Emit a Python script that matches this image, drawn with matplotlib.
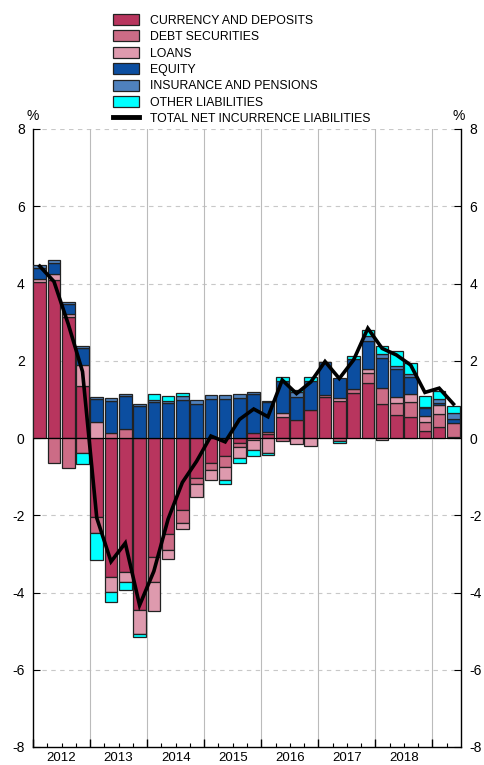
import numpy as np
import matplotlib.pyplot as plt
from matplotlib.patches import Patch
from matplotlib.lines import Line2D

plt.rcParams['font.family'] = ['Liberation Sans', 'DejaVu Sans']
plt.rcParams['axes.unicode_minus'] = False

# quarterly data, 2012Q1 - 2019Q2 (% contributions)
years = ['2012', '2013', '2014', '2015', '2016', '2017', '2018']

currency = [4.05, 4.08, 3.13, 1.35, -2.04, -3.59, -3.46, -4.45,
            -3.07, -2.48, -1.86, -1.03, -0.66, -0.47, -0.14, 0.12,
            0.10, 0.55, 0.46, 0.72, 1.07, 0.96, 1.16, 1.43,
            0.88, 0.60, 0.55, 0.19, 0.29, 0.02]
debt = [0.00, -0.64, -0.77, -0.38, -0.41, 0.14, 0.23, 0.00,
        -0.65, -0.41, -0.35, -0.16, -0.17, -0.29, -0.09, -0.05,
        0.06, -0.07, 0.00, 0.00, 0.04, -0.08, 0.10, 0.26,
        0.41, 0.30, 0.38, 0.23, 0.33, 0.38]
loans = [0.06, 0.17, 0.08, 0.54, 0.42, -0.39, -0.26, -0.62,
         -0.76, -0.24, -0.15, -0.35, -0.26, -0.33, -0.28, -0.26,
         -0.38, 0.09, -0.15, -0.20, 0.00, 0.07, 0.00, 0.09,
         -0.04, 0.16, 0.21, 0.15, 0.23, 0.00]
equity = [0.28, 0.28, 0.25, 0.43, 0.58, 0.83, 0.86, 0.83,
          0.92, 0.91, 0.98, 0.88, 1.00, 1.02, 1.03, 1.02,
          0.77, 0.84, 0.61, 0.76, 0.86, 0.52, 0.78, 0.73,
          0.78, 0.72, 0.45, 0.20, 0.06, 0.09]
insurance = [0.08, 0.09, 0.07, 0.05, 0.05, 0.06, 0.06, 0.05,
             0.06, 0.05, 0.11, 0.10, 0.11, 0.09, 0.10, 0.04,
             0.04, 0.00, 0.13, 0.00, 0.00, 0.00, 0.00, 0.12,
             0.11, 0.09, 0.07, 0.03, 0.10, 0.15]
other = [0.00, 0.00, 0.00, -0.30, -0.72, -0.26, -0.22, -0.08,
         0.16, 0.12, 0.08, 0.00, 0.00, -0.10, -0.13, -0.16,
         -0.06, 0.11, 0.03, 0.09, 0.00, -0.06, 0.09, 0.17,
         0.19, 0.37, 0.28, 0.30, 0.20, 0.20]
total = [4.45, 4.05, 2.95, 1.72, -2.07, -3.20, -2.72, -4.33,
         -3.45, -2.10, -1.15, -0.60, 0.05, -0.10, 0.48, 0.75,
         0.55, 1.50, 1.15, 1.45, 1.98, 1.54, 2.02, 2.84,
         2.32, 2.15, 1.89, 1.18, 1.29, 0.88]

series = [
    ('CURRENCY AND DEPOSITS', currency, '#B8355E'),
    ('DEBT SECURITIES', debt, '#CC6C86'),
    ('LOANS', loans, '#DE9AAE'),
    ('EQUITY', equity, '#0C4EA0'),
    ('INSURANCE AND PENSIONS', insurance, '#4F81BD'),
    ('OTHER LIABILITIES', other, '#00FFFF'),
]

fig = plt.figure(figsize=(4.84, 7.65), dpi=100)
ax = fig.add_axes([33 / 484, 1 - 747 / 765, (461 - 33) / 484, (747 - 129) / 765])

n = len(currency)
x = np.arange(n) + 0.47
pos_base = np.zeros(n)
neg_base = np.zeros(n)
for label, vals, color in series:
    v = np.array(vals)
    up = v > 0
    dn = v < 0
    ax.bar(x[up], v[up], 0.88, bottom=pos_base[up], color=color,
           edgecolor='#222222', linewidth=0.9, zorder=3)
    ax.bar(x[dn], v[dn], 0.88, bottom=neg_base[dn], color=color,
           edgecolor='#222222', linewidth=0.9, zorder=3)
    pos_base[up] += v[up]
    neg_base[dn] += v[dn]

ax.plot(x, total, color='black', linewidth=2.6, zorder=5, solid_joinstyle='miter')
ax.axhline(0, color='black', linewidth=0.8, zorder=4)

ax.set_xlim(0, n)
ax.set_ylim(-8, 8)
ax.set_yticks(range(-8, 9, 2))
ax.set_xticks(range(0, n, 4))
ax.set_xticks(range(0, n), minor=True)
ax.set_xticklabels([])

for y in range(2, 9, 2):
    ax.axhline(y, color='#c8c8c8', linewidth=0.8, dashes=(4, 4), zorder=1)
for y in range(-6, 0, 2):
    ax.axhline(y, color='#c8c8c8', linewidth=0.8, dashes=(4, 4), zorder=1)
for xv in range(4, n, 4):
    ax.axvline(xv, color='#bbbbbb', linewidth=0.8, zorder=1)

for i, yr in enumerate(years):
    ax.annotate(yr, (4 * i + 2, -8), xytext=(0, -3.5), textcoords='offset points',
                ha='center', va='top', fontsize=9.5)

ax.spines['top'].set_visible(False)
for s in ['left', 'right', 'bottom']:
    ax.spines[s].set_linewidth(1.0)

ax.tick_params(axis='y', direction='in', length=5, left=True, right=True,
               labelleft=True, labelright=True, labelsize=10, pad=6)
ax.tick_params(axis='x', which='major', direction='in', length=6, width=1.0)
ax.tick_params(axis='x', which='minor', direction='in', length=3, width=0.8)

fig.text(33 / 484, 1 - 116 / 765, '%', ha='center', va='center', fontsize=10)
fig.text(459 / 484, 1 - 116 / 765, '%', ha='center', va='center', fontsize=10)

handles = [Patch(facecolor=c, edgecolor='#222222', linewidth=0.9, label=l)
           for l, _, c in series]
handles.append(Line2D([], [], color='black', linewidth=3.5,
                      label='TOTAL NET INCURRENCE LIABILITIES'))
fig.legend(handles=handles, loc='upper left', bbox_to_anchor=(113 / 484, 1 - 14 / 765),
           frameon=False, fontsize=8.8, handlelength=2.15, handleheight=1.0,
           labelspacing=0.31, handletextpad=0.9, borderpad=0, borderaxespad=0)

fig.savefig('out.png', dpi=100)
